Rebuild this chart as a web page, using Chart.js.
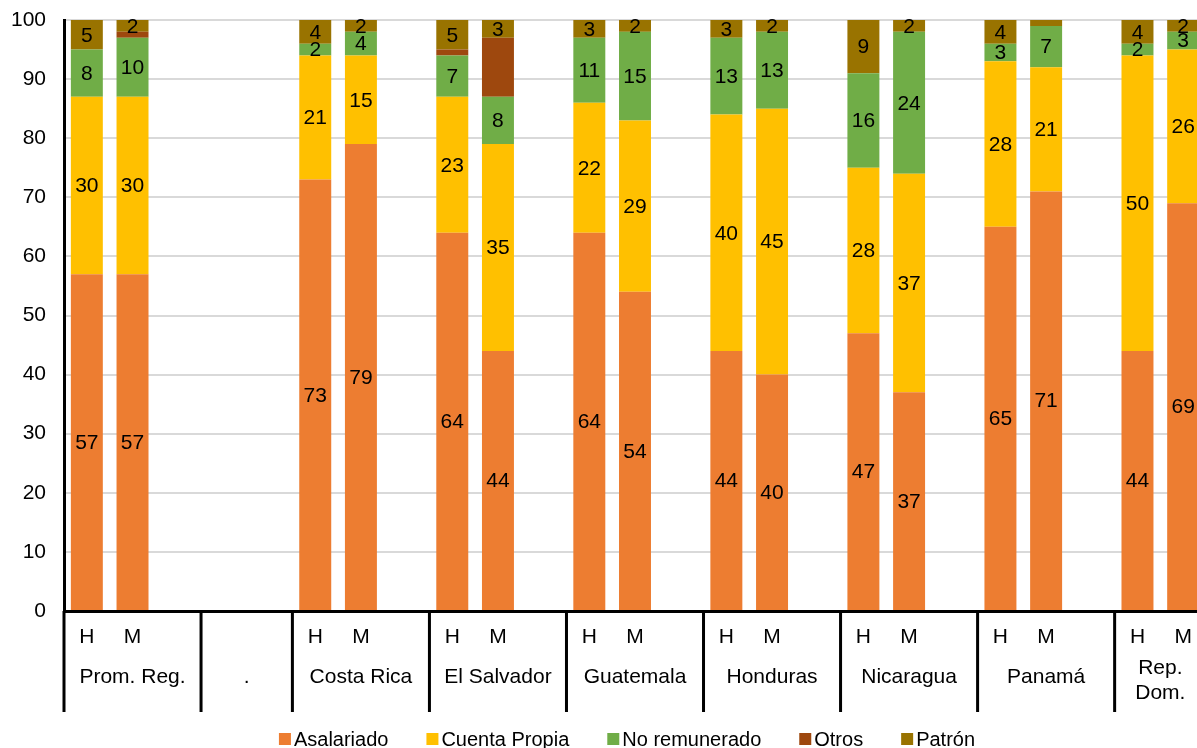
<!DOCTYPE html>
<html>
<head>
<meta charset="utf-8">
<script src="https://cdn.jsdelivr.net/npm/chart.js@4"></script>
<style>
html, body { margin: 0; padding: 0; background: #fff; overflow: hidden; }
</style>
</head>
<body>
<canvas id="graph" width="1210" height="748"></canvas>
<script>
// groups on the x axis, "|" = line break
var groups = ['Prom. Reg.', '.', 'Costa Rica', 'El Salvador', 'Guatemala', 'Honduras', 'Nicaragua', 'Panamá', 'Rep.|Dom.'];
var groupSlots = [3, 2, 3, 3, 3, 3, 3, 3, 2];
var sexes = ['H', 'M'];

// H, M per country (the "." group has no bars)
var asalariado   = [57, 57, 73, 79, 64, 44, 64, 54, 44, 40, 47, 37, 65, 71, 44, 69];
var cuentaPropia = [30, 30, 21, 15, 23, 35, 22, 29, 40, 45, 28, 37, 28, 21, 50, 26];
var noRemunerado = [8, 10, 2, 4, 7, 8, 11, 15, 13, 13, 16, 24, 3, 7, 2, 3];
var otros        = [0, 1, 0, 0, 1, 10, 0, 0, 0, 0, 0, 0, 0, 0, 0, 0];
var patron       = [5, 2, 4, 2, 5, 3, 3, 2, 3, 2, 9, 2, 4, 1, 4, 2];

var yTicks = [0, 10, 20, 30, 40, 50, 60, 70, 80, 90, 100];

var FONT = "'Liberation Sans', Arial, sans-serif";

// build the 25 category slots
var labels = [];
var slotIdx = [];   // index into the value arrays, or -1
var k = 0;
groups.forEach(function (g, gi) {
    for (var s = 0; s < groupSlots[gi]; s++) {
        if (g !== '.' && s < 2) {
            labels.push(sexes[s]);
            slotIdx.push(k++);
        } else {
            labels.push('');
            slotIdx.push(-1);
        }
    }
});

function spread(arr) {
    return slotIdx.map(function (i) { return i < 0 ? null : arr[i]; });
}

var series = [
    { label: 'Asalariado', data: asalariado, color: '#ED7D31' },
    { label: 'Cuenta Propia', data: cuentaPropia, color: '#FFC000' },
    { label: 'No remunerado', data: noRemunerado, color: '#70AD47' },
    { label: 'Otros', data: otros, color: '#9E480E' },
    { label: 'Patrón', data: patron, color: '#997300' }
];

var multiAxis = {
    id: 'multiAxis',
    afterDatasetsDraw: function (chart) {
        var ctx = chart.ctx;
        ctx.save();
        ctx.font = '21px ' + FONT;
        ctx.fillStyle = '#000';
        ctx.textAlign = 'center';
        ctx.textBaseline = 'middle';
        chart.data.datasets.forEach(function (ds, di) {
            if (ds.label === 'Otros') return;
            chart.getDatasetMeta(di).data.forEach(function (el, i) {
                var v = ds.data[i];
                if (v == null || v < 2) return;
                var p = el.getProps(['x', 'y', 'base'], true);
                ctx.fillText(String(v), p.x, (p.y + p.base) / 2 + 1);
            });
        });
        ctx.restore();
    },
    afterDraw: function (chart) {
        var ctx = chart.ctx;
        var area = chart.chartArea;
        var step = (area.right - area.left) / labels.length;
        var bottom = area.bottom + 101;
        ctx.save();
        ctx.strokeStyle = '#000';
        ctx.lineWidth = 3;
        ctx.beginPath();
        ctx.moveTo(area.left, area.bottom);
        ctx.lineTo(area.left, bottom);
        var pos = 0;
        groupSlots.forEach(function (n, gi) {
            pos += n;
            if (gi < groupSlots.length - 1) {
                var bx = area.left + pos * step;
                ctx.moveTo(bx, area.bottom);
                ctx.lineTo(bx, bottom);
            }
        });
        ctx.stroke();

        // group names
        ctx.font = '21px ' + FONT;
        ctx.fillStyle = '#000';
        ctx.textAlign = 'center';
        ctx.textBaseline = 'middle';
        pos = 0;
        groups.forEach(function (g, gi) {
            var cx = area.left + (pos + groupSlots[gi] / 2) * step;
            var lines = g.split('|');
            var y0 = area.bottom + 66 - (lines.length - 1) * 9;
            lines.forEach(function (t, li) {
                ctx.fillText(t, cx, y0 + li * 25);
            });
            pos += groupSlots[gi];
        });

        // legend
        ctx.font = '20px ' + FONT;
        var box = 12, gap = 3, sep = 38;
        var widths = series.map(function (s) { return ctx.measureText(s.label).width; });
        var total = widths.reduce(function (a, b) { return a + b + box + gap; }, 0) + sep * (series.length - 1);
        var lx = 627 - total / 2;
        var ly = 739;
        ctx.textAlign = 'left';
        series.forEach(function (s, i) {
            ctx.fillStyle = s.color;
            ctx.fillRect(lx, ly - box / 2, box, box);
            ctx.fillStyle = '#000';
            ctx.fillText(s.label, lx + box + gap, ly + 1);
            lx += box + gap + widths[i] + sep;
        });
        ctx.restore();
    }
};

var ctx = document.getElementById('graph');
var chart = new Chart(ctx, {
    type: 'bar',
    data: {
        labels: labels,
        datasets: series.map(function (s) {
            return {
                label: s.label,
                data: spread(s.data),
                backgroundColor: s.color,
                borderWidth: 0,
                barPercentage: 0.7,
                categoryPercentage: 1
            };
        })
    },
    options: {
        responsive: false,
        animation: false,
        layout: { padding: { top: 20, right: 4, bottom: 0, left: 0 } },
        plugins: {
            legend: { display: false },
            tooltip: { enabled: false }
        },
        scales: {
            x: {
                stacked: true,
                grid: { display: false },
                border: { color: '#000', width: 3 },
                ticks: {
                    autoSkip: false,
                    maxRotation: 0,
                    padding: 6,
                    color: '#000',
                    font: { family: FONT, size: 21 }
                },
                afterFit: function (scale) { scale.height = 137; }
            },
            y: {
                stacked: true,
                min: 0,
                max: 100,
                afterBuildTicks: function (scale) {
                    scale.ticks = yTicks.map(function (v) { return { value: v }; });
                },
                grid: { color: '#d9d9d9', lineWidth: 2, drawTicks: false },
                border: { color: '#000', width: 3 },
                ticks: {
                    padding: 18,
                    color: '#000',
                    font: { family: FONT, size: 21 }
                },
                afterFit: function (scale) {
                    scale.width = 64;
                    scale.paddingTop = 10;
                    scale.paddingBottom = 10;
                }
            }
        }
    },
    plugins: [multiAxis]
});
</script>
</body>
</html>
